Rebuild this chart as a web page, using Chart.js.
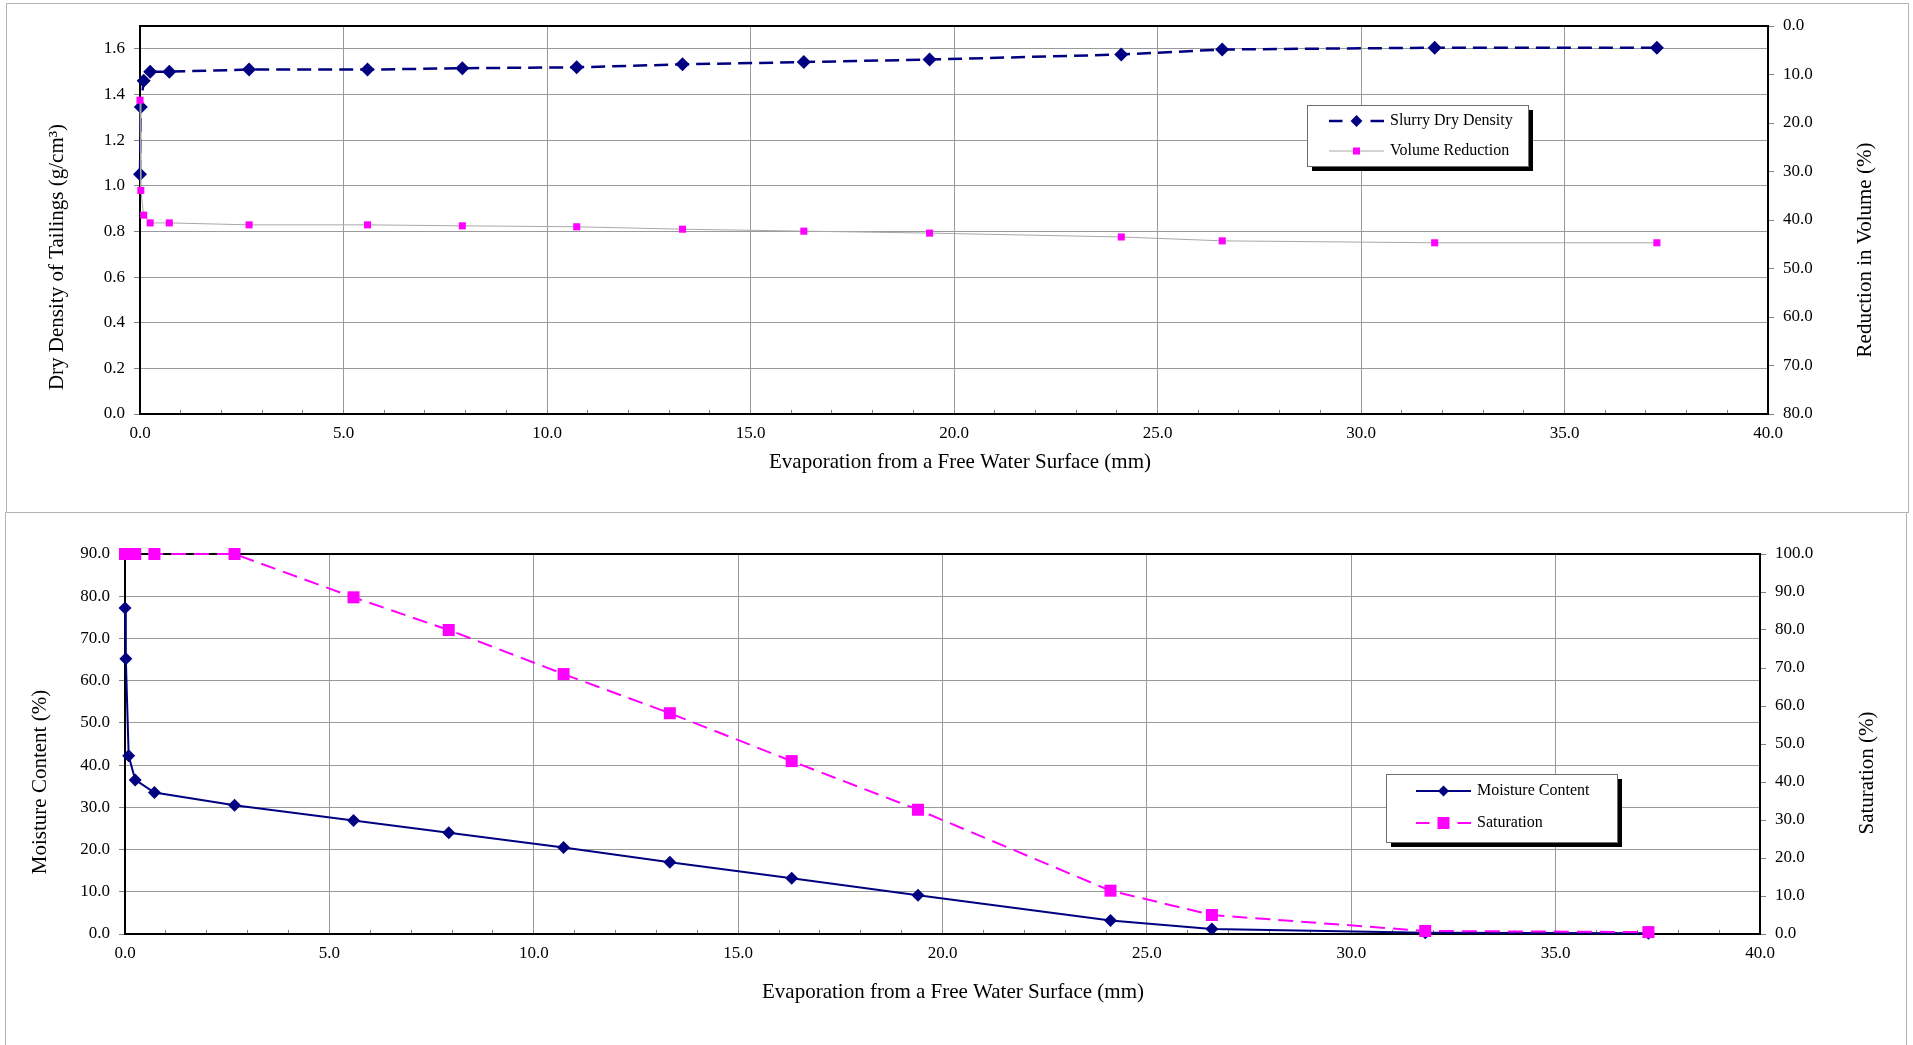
<!DOCTYPE html>
<html>
<head>
<meta charset="utf-8">
<title>Tailings drying under evaporation</title>
<script src="https://cdn.jsdelivr.net/npm/chart.js@4.4.1/dist/chart.umd.min.js"></script>
<style>
  html, body { margin: 0; padding: 0; background: #fff; width: 1913px; height: 1045px; overflow: hidden; }
  .frame { position: absolute; box-sizing: border-box; border: 1px solid #b4b4b4; }
  canvas { position: absolute; left: 0; }
</style>
</head>
<body>
<div class="frame" style="left:6px;top:3px;width:1903px;height:510px"></div>
<div class="frame" style="left:5px;top:512px;width:1902px;height:560px"></div>
<canvas id="densityChart" width="1913" height="512" style="top:0"></canvas>
<canvas id="moistureChart" width="1913" height="533" style="top:512px"></canvas>
<script>
// Measured series (shared evaporation axis, mm)
const evaporation     = [0, 0.02, 0.09, 0.25, 0.72, 2.68, 5.59, 7.92, 10.73, 13.33, 16.31, 19.40, 24.11, 26.59, 31.81, 37.27];
const dryDensity      = [1.05, 1.345, 1.46, 1.50, 1.50, 1.509, 1.509, 1.515, 1.519, 1.532, 1.542, 1.553, 1.575, 1.597, 1.605, 1.605];
const volumeReduction = [15.3, 33.9, 39.0, 40.6, 40.6, 41.0, 41.0, 41.2, 41.4, 41.9, 42.3, 42.7, 43.5, 44.3, 44.7, 44.7];
const moistureContent = [77.2, 65.2, 42.2, 36.5, 33.5, 30.5, 26.9, 24.0, 20.5, 17.0, 13.2, 9.2, 3.2, 1.2, 0.3, 0.15];
const saturation      = [100, 100, 100, 100, 100, 100, 88.6, 80.0, 68.4, 58.1, 45.5, 32.7, 11.4, 5.0, 0.8, 0.5];

// Axis ranges and tick steps
const evapRange      = { min: 0, max: 40, major: 5, minor: 1 };
const densityRange   = { min: 0, max: 1.7, step: 0.2 };
const reductionRange = { min: 0, max: 80, step: 10 };
const moistureRange  = { min: 0, max: 90, step: 10 };
const saturationRange= { min: 0, max: 100, step: 10 };

const NAVY = '#000080';
const MAGENTA = '#ff00ff';
const GRID = '#9a9a9a';
const TICK = '#808080';

Chart.defaults.font.family = "'Liberation Serif', 'Times New Roman', serif";
Chart.defaults.color = '#000';

const pairs = (xs, ys) => xs.map((x, i) => ({ x: x, y: ys[i] }));
const fmt1 = v => Number(v).toFixed(1);

// Frame around the plot, axis titles and the boxed legend
const decor = {
  id: 'decor',
  beforeDatasetsDraw(chart) {
    const { ctx, chartArea: a } = chart;
    ctx.save();
    ctx.strokeStyle = '#000';
    ctx.lineWidth = 2;
    ctx.strokeRect(a.left, a.top, a.right - a.left, a.bottom - a.top);
    ctx.restore();
  },
  afterDraw(chart, args, opts) {
    const ctx = chart.ctx;
    ctx.save();
    ctx.fillStyle = '#000';
    ctx.font = "21px 'Liberation Serif', 'Times New Roman', serif";
    ctx.textAlign = 'center';
    ctx.textBaseline = 'middle';
    for (const t of opts.titles) {
      ctx.save();
      ctx.translate(t.x, t.y);
      ctx.rotate(t.rotate || 0);
      ctx.fillText(t.text, 0, 0);
      ctx.restore();
    }
    const L = opts.legend;
    ctx.fillStyle = '#000';
    ctx.fillRect(L.x + 5, L.y + 5, L.w, L.h);
    ctx.fillStyle = '#fff';
    ctx.fillRect(L.x, L.y, L.w, L.h);
    ctx.strokeStyle = '#6e6e6e';
    ctx.lineWidth = 1;
    ctx.strokeRect(L.x + 0.5, L.y + 0.5, L.w, L.h);
    const mid = (L.x0 + L.x1) / 2;
    L.items.forEach(item => {
      const ds = chart.data.datasets[item.index];
      const y = item.y;
      ctx.strokeStyle = ds.borderColor;
      ctx.lineWidth = ds.borderWidth;
      ctx.setLineDash([]);
      ctx.beginPath();
      if (ds.borderDash && ds.borderDash.length) {
        ctx.moveTo(L.x0, y); ctx.lineTo(mid - 14, y);
        ctx.moveTo(mid + 14, y); ctx.lineTo(L.x1, y);
      } else {
        ctx.moveTo(L.x0, y); ctx.lineTo(L.x1, y);
      }
      ctx.stroke();
      ctx.fillStyle = ds.pointBackgroundColor || ds.backgroundColor;
      const r = ds.pointRadius;
      ctx.beginPath();
      if (ds.pointStyle === 'rectRot') {
        const d = r * 0.85;
        ctx.moveTo(mid, y - d); ctx.lineTo(mid + d, y); ctx.lineTo(mid, y + d); ctx.lineTo(mid - d, y);
        ctx.closePath();
      } else {
        const h = r * Math.SQRT1_2;
        ctx.rect(mid - h, y - h, 2 * h, 2 * h);
      }
      ctx.fill();
      ctx.fillStyle = '#000';
      ctx.font = "16px 'Liberation Serif', 'Times New Roman', serif";
      ctx.textAlign = 'left';
      ctx.textBaseline = 'middle';
      ctx.fillText(ds.label, L.textX, y);
    });
    ctx.restore();
  }
};

function evapAxis(height) {
  return {
    type: 'linear', position: 'bottom',
    min: evapRange.min, max: evapRange.max,
    ticks: {
      stepSize: evapRange.minor, autoSkip: false, maxRotation: 0, padding: 13,
      font: { size: 17 }, color: '#000',
      callback: v => (v % evapRange.major === 0 ? fmt1(v) : '')
    },
    grid: {
      color: c => (c.tick && c.tick.value % evapRange.major === 0) ? GRID : 'rgba(0,0,0,0)',
      tickColor: TICK, tickLength: -4, lineWidth: 1
    },
    border: { display: false },
    title: { display: false },
    afterFit: s => { s.height = height; }
  };
}

function valueAxis(pos, range, width, opts) {
  const left = pos === 'left';
  return Object.assign({
    type: 'linear', position: pos,
    min: range.min, max: range.max,
    ticks: { stepSize: range.step, includeBounds: false, padding: 9, font: { size: 17 }, color: '#000', callback: fmt1 },
    grid: { color: GRID, drawOnChartArea: left, tickColor: TICK, tickLength: 6, lineWidth: 1 },
    border: { display: false },
    title: { display: false },
    afterFit: s => { s.width = width; }
  }, opts || {});
}

const common = {
  responsive: false,
  animation: false,
  devicePixelRatio: 1,
  events: []
};

// Upper chart: dry density and volume reduction
new Chart(document.getElementById('densityChart'), {
  type: 'scatter',
  data: {
    datasets: [
      {
        label: 'Slurry Dry Density',
        data: pairs(evaporation, dryDensity),
        yAxisID: 'y',
        showLine: true, tension: 0,
        borderColor: NAVY, backgroundColor: NAVY, pointBackgroundColor: NAVY,
        borderWidth: 2.5, borderDash: [14, 7],
        pointStyle: 'rectRot', pointRadius: 7, pointBorderWidth: 0,
        clip: false, order: 2
      },
      {
        label: 'Volume Reduction',
        data: pairs(evaporation, volumeReduction),
        yAxisID: 'y2',
        showLine: true, tension: 0,
        borderColor: '#a8a8a8', backgroundColor: MAGENTA, pointBackgroundColor: MAGENTA,
        borderWidth: 1,
        pointStyle: 'rect', pointRadius: 5, pointBorderWidth: 0,
        clip: false, order: 1
      }
    ]
  },
  options: Object.assign({}, common, {
    layout: { padding: { top: 26, left: 0, right: 0, bottom: 0 } },
    scales: {
      x: evapAxis(98),
      y: valueAxis('left', densityRange, 140),
      y2: valueAxis('right', reductionRange, 145, { reverse: true })
    },
    plugins: {
      legend: { display: false },
      tooltip: { enabled: false },
      decor: {
        titles: [
          { text: 'Dry Density of Tailings (g/cm³)', x: 57, y: 257, rotate: -Math.PI / 2 },
          { text: 'Reduction in Volume (%)', x: 1865, y: 250, rotate: -Math.PI / 2 },
          { text: 'Evaporation from a Free Water Surface (mm)', x: 960, y: 462 }
        ],
        legend: {
          x: 1307, y: 105, w: 221, h: 61,
          x0: 1329, x1: 1384, textX: 1390,
          items: [ { index: 0, y: 121 }, { index: 1, y: 151 } ]
        }
      }
    }
  }),
  plugins: [decor]
});

// Lower chart: moisture content and saturation
new Chart(document.getElementById('moistureChart'), {
  type: 'scatter',
  data: {
    datasets: [
      {
        label: 'Moisture Content',
        data: pairs(evaporation, moistureContent),
        yAxisID: 'y',
        showLine: true, tension: 0,
        borderColor: NAVY, backgroundColor: NAVY, pointBackgroundColor: NAVY,
        borderWidth: 2,
        pointStyle: 'rectRot', pointRadius: 6.5, pointBorderWidth: 0,
        clip: false, order: 2
      },
      {
        label: 'Saturation',
        data: pairs(evaporation, saturation),
        yAxisID: 'y2',
        showLine: true, tension: 0,
        borderColor: MAGENTA, backgroundColor: MAGENTA, pointBackgroundColor: MAGENTA,
        borderWidth: 2, borderDash: [15, 8],
        pointStyle: 'rect', pointRadius: 8.5, pointBorderWidth: 0,
        clip: false, order: 1
      }
    ]
  },
  options: Object.assign({}, common, {
    layout: { padding: { top: 42, left: 0, right: 0, bottom: 0 } },
    scales: {
      x: evapAxis(111),
      y: valueAxis('left', moistureRange, 125),
      y2: valueAxis('right', saturationRange, 153)
    },
    plugins: {
      legend: { display: false },
      tooltip: { enabled: false },
      decor: {
        titles: [
          { text: 'Moisture Content (%)', x: 40, y: 270, rotate: -Math.PI / 2 },
          { text: 'Saturation (%)', x: 1867, y: 261, rotate: -Math.PI / 2 },
          { text: 'Evaporation from a Free Water Surface (mm)', x: 953, y: 480 }
        ],
        legend: {
          x: 1386, y: 262, w: 231, h: 68,
          x0: 1416, x1: 1471, textX: 1477,
          items: [ { index: 0, y: 279 }, { index: 1, y: 311 } ]
        }
      }
    }
  }),
  plugins: [decor]
});
</script>
</body>
</html>
